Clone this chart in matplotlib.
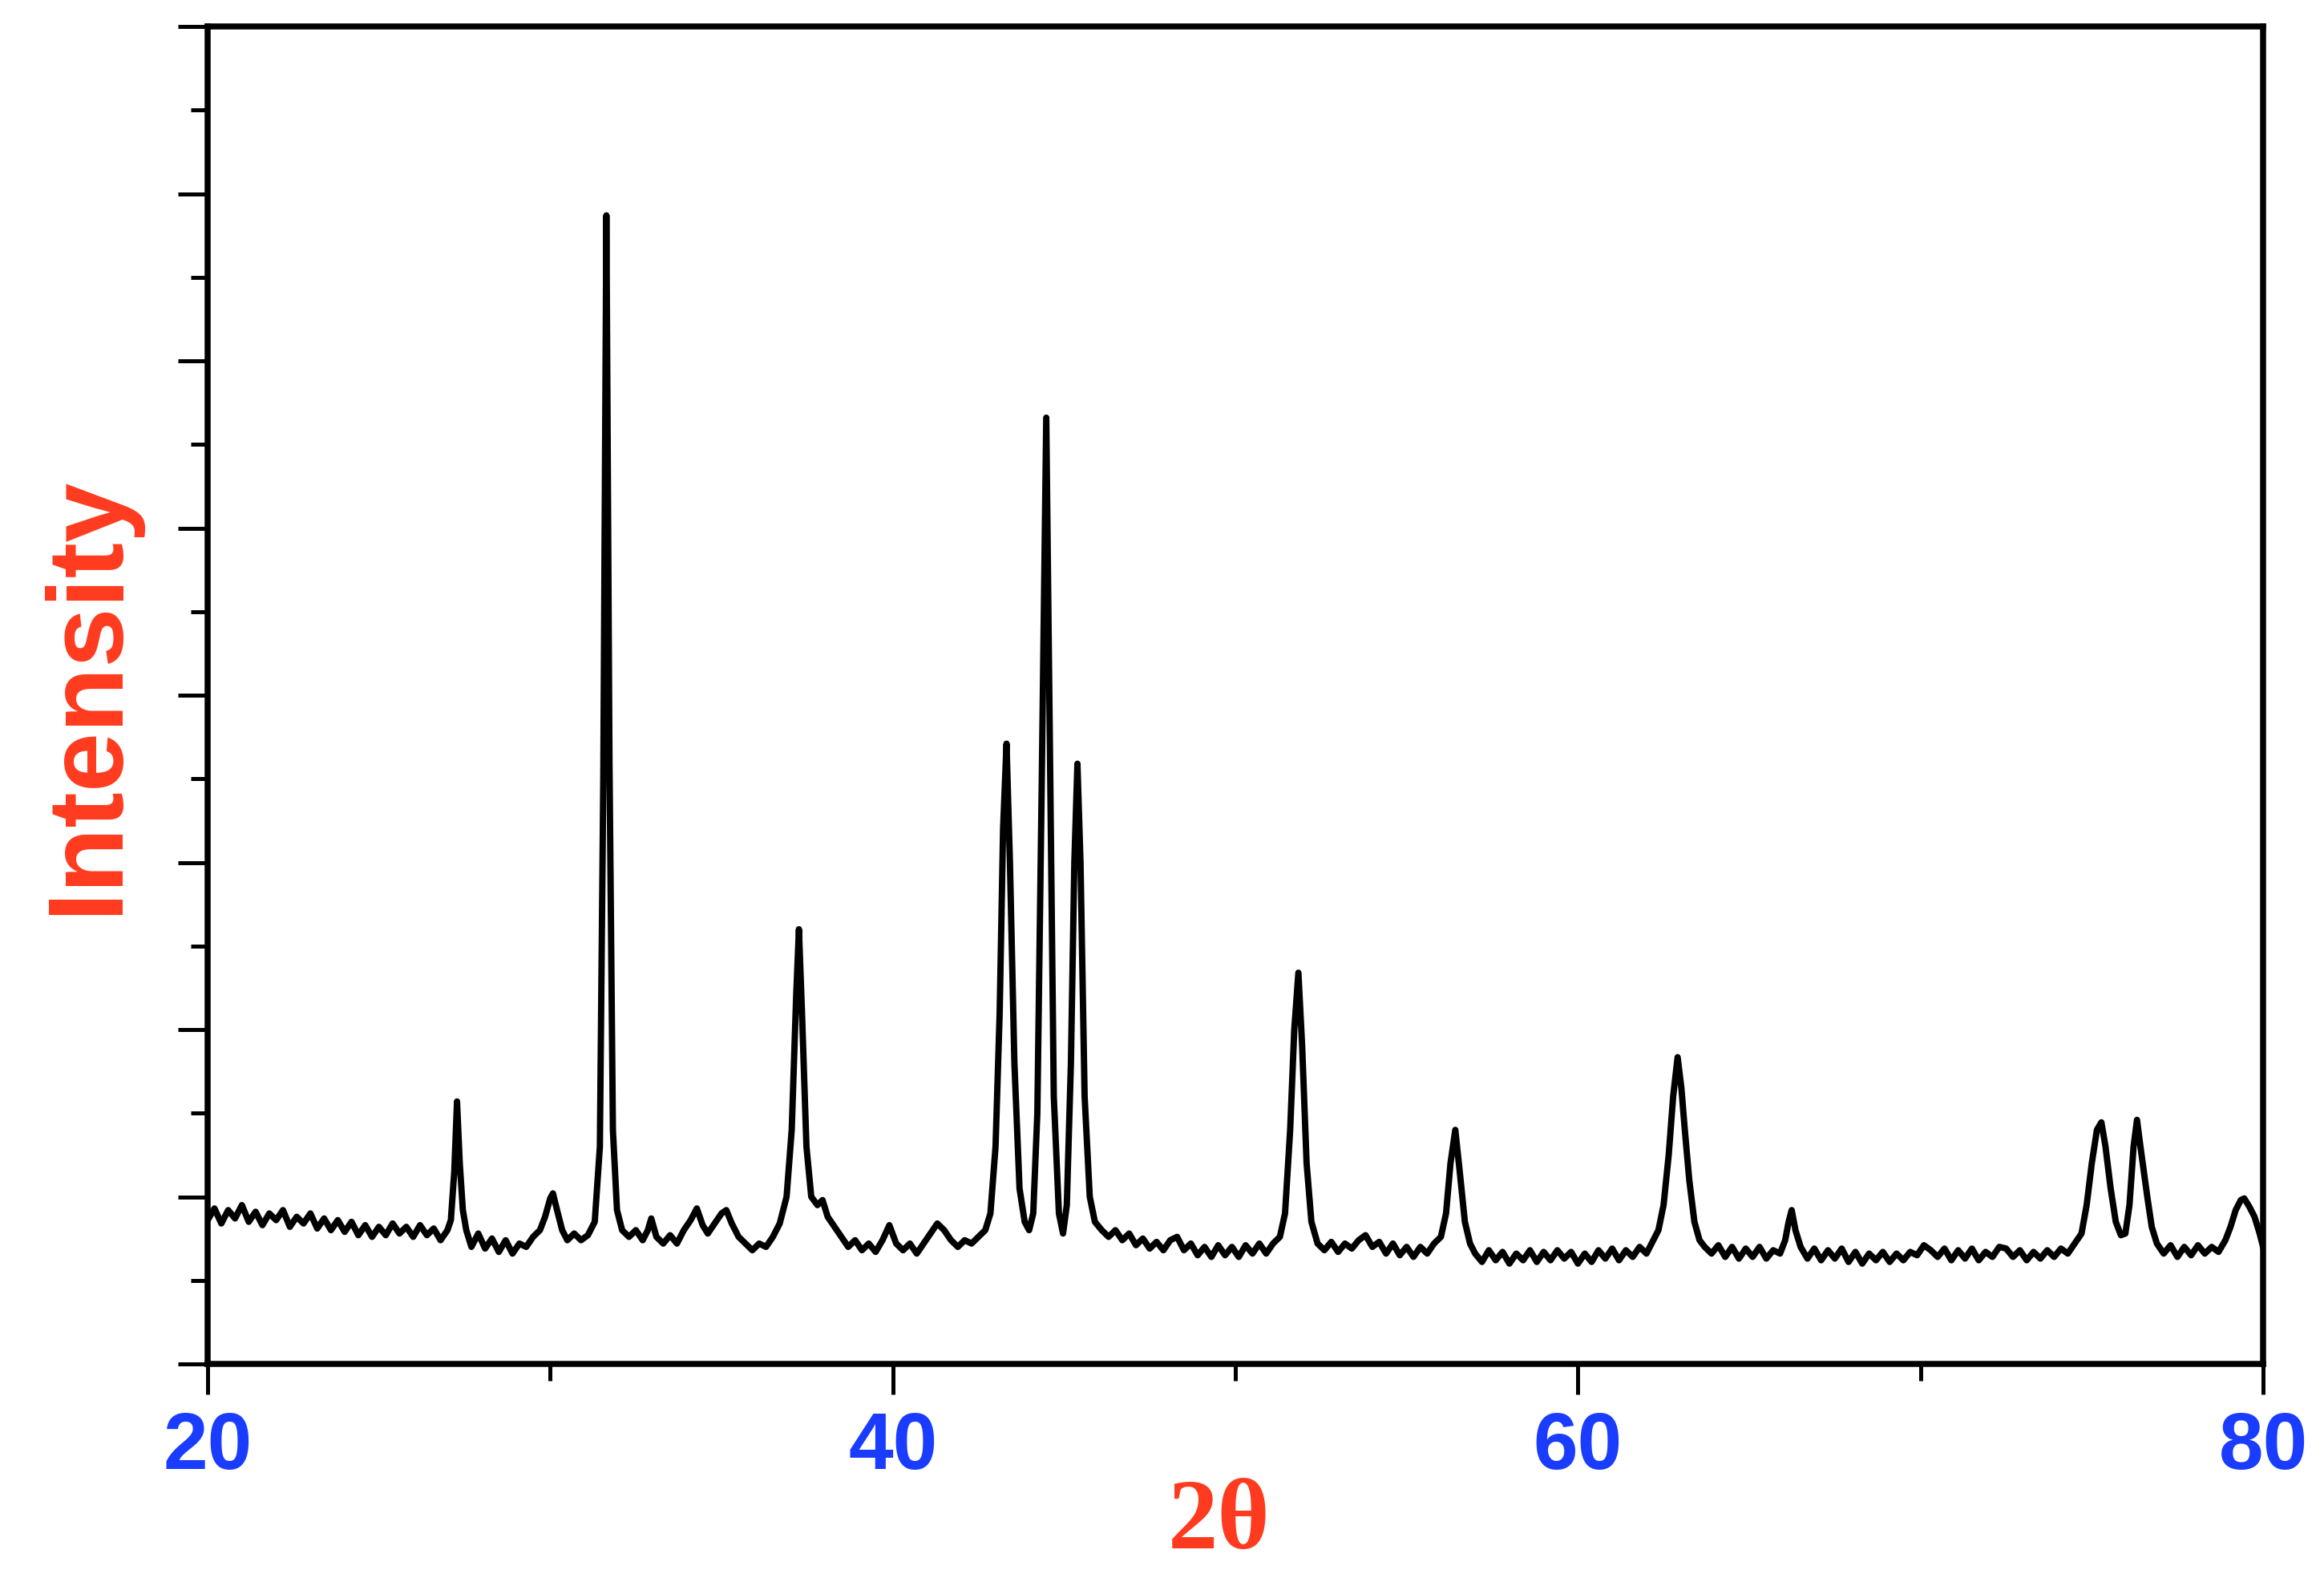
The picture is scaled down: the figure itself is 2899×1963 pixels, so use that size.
import numpy as np
import matplotlib
matplotlib.use('Agg')
from matplotlib import pyplot as plt
from matplotlib.ticker import MultipleLocator, NullFormatter

# XRD pattern (2theta in degrees, intensity in arbitrary units)
two_theta = [
    20.0, 20.2, 20.4, 20.6, 20.8, 21.0, 21.2, 21.4, 21.6, 21.8, 22.0, 22.2, 22.4, 22.6, 22.8,
    23.0, 23.2, 23.4, 23.6, 23.8, 24.0, 24.2, 24.4, 24.6, 24.8, 25.0, 25.2, 25.4, 25.6, 25.8,
    26.0, 26.2, 26.4, 26.6, 26.8, 27.0, 27.1, 27.2, 27.28, 27.36, 27.45, 27.55,
    27.7, 27.9, 28.1, 28.3, 28.5, 28.7, 28.9, 29.1, 29.3, 29.5, 29.7, 29.85, 30.0, 30.08,
    30.2, 30.35, 30.5, 30.7, 30.9, 31.1, 31.3, 31.45, 31.55, 31.64, 31.73, 31.83, 31.95,
    32.1, 32.3, 32.5, 32.7, 32.85, 32.95, 33.1, 33.3, 33.5, 33.7, 33.9, 34.1, 34.28, 34.45,
    34.6, 34.8, 35.0, 35.14, 35.3, 35.5, 35.7, 35.9, 36.1, 36.3, 36.5, 36.7, 36.9, 37.05,
    37.18, 37.26, 37.35, 37.48, 37.62, 37.8, 37.95, 38.1, 38.3, 38.5, 38.7, 38.9, 39.1,
    39.3, 39.5, 39.7, 39.9, 40.1, 40.3, 40.5, 40.7, 40.9, 41.1, 41.3, 41.5, 41.7, 41.9,
    42.1, 42.3, 42.5, 42.7, 42.85, 43.0, 43.12, 43.22, 43.32, 43.42, 43.55, 43.7, 43.85,
    43.98, 44.1, 44.22, 44.35, 44.48, 44.58, 44.7, 44.85, 44.97, 45.08, 45.2, 45.3, 45.39,
    45.48, 45.6, 45.75, 45.9, 46.1, 46.3, 46.5, 46.7, 46.9, 47.1, 47.3, 47.5, 47.7, 47.9,
    48.1, 48.3, 48.5, 48.7, 48.9, 49.1, 49.3, 49.5, 49.7, 49.9, 50.1, 50.3, 50.5, 50.7,
    50.9, 51.1, 51.3, 51.45, 51.6, 51.72, 51.84, 51.95, 52.08, 52.22, 52.4, 52.6, 52.8,
    53.0, 53.2, 53.4, 53.6, 53.8, 54.0, 54.2, 54.4, 54.6, 54.8, 55.0, 55.2, 55.4, 55.6,
    55.8, 56.0, 56.15, 56.28, 56.42, 56.55, 56.7, 56.85, 57.0, 57.2, 57.4, 57.6, 57.8,
    58.0, 58.2, 58.4, 58.6, 58.8, 59.0, 59.2, 59.4, 59.6, 59.8, 60.0, 60.2, 60.4, 60.6,
    60.8, 61.0, 61.2, 61.4, 61.6, 61.8, 62.0, 62.2, 62.35, 62.5, 62.65, 62.78, 62.91,
    63.02, 63.12, 63.25, 63.4, 63.55, 63.7, 63.9, 64.1, 64.3, 64.5, 64.7, 64.9, 65.1,
    65.3, 65.5, 65.7, 65.9, 66.05, 66.15, 66.24, 66.35, 66.5, 66.7, 66.9, 67.1, 67.3,
    67.5, 67.7, 67.9, 68.1, 68.3, 68.5, 68.7, 68.9, 69.1, 69.3, 69.5, 69.7, 69.9, 70.1,
    70.3, 70.5, 70.7, 70.9, 71.1, 71.3, 71.5, 71.7, 71.9, 72.1, 72.3, 72.5, 72.7, 72.9,
    73.1, 73.3, 73.5, 73.7, 73.9, 74.1, 74.3, 74.5, 74.7, 74.85, 75.0, 75.15, 75.28, 75.4,
    75.55, 75.7, 75.85, 75.98, 76.1, 76.22, 76.32, 76.42, 76.52, 76.62, 76.75, 76.9,
    77.1, 77.3, 77.5, 77.7, 77.9, 78.1, 78.3, 78.5, 78.7, 78.9, 79.05, 79.2, 79.35, 79.45,
    79.6, 79.75, 79.9, 80.0,
]
intensity = [
    0.86, 0.93, 0.84, 0.92, 0.87, 0.95, 0.85, 0.91, 0.83, 0.90, 0.86, 0.92, 0.82, 0.88, 0.84,
    0.90, 0.81, 0.87, 0.80, 0.86, 0.79, 0.85, 0.77, 0.83, 0.76, 0.82, 0.77, 0.84, 0.78, 0.82,
    0.76, 0.83, 0.77, 0.81, 0.74, 0.80, 0.86, 1.15, 1.57, 1.20, 0.92, 0.80,
    0.70, 0.78, 0.69, 0.75, 0.67, 0.74, 0.66, 0.72, 0.70, 0.76, 0.80, 0.88, 0.99, 1.02,
    0.92, 0.80, 0.74, 0.78, 0.74, 0.77, 0.85, 1.30, 3.50, 6.87, 3.60, 1.40, 0.92,
    0.80, 0.76, 0.80, 0.74, 0.80, 0.87, 0.76, 0.72, 0.77, 0.72, 0.80, 0.86, 0.93, 0.83,
    0.78, 0.84, 0.90, 0.92, 0.84, 0.76, 0.72, 0.68, 0.72, 0.70, 0.76, 0.84, 1.00, 1.40,
    2.20, 2.60, 2.10, 1.30, 1.00, 0.95, 0.98, 0.88, 0.82, 0.76, 0.70, 0.74, 0.68,
    0.72, 0.67, 0.74, 0.83, 0.72, 0.68, 0.72, 0.66, 0.72, 0.78, 0.84, 0.80, 0.74, 0.70,
    0.74, 0.72, 0.76, 0.80, 0.90, 1.30, 2.10, 3.20, 3.71, 3.00, 1.80, 1.05, 0.85,
    0.80, 0.90, 1.50, 3.50, 5.66, 3.80, 1.60, 0.90, 0.78, 0.95, 1.80, 3.00, 3.59,
    3.00, 1.60, 1.00, 0.85, 0.80, 0.76, 0.80, 0.74, 0.78, 0.71, 0.75, 0.69, 0.73, 0.68,
    0.74, 0.76, 0.68, 0.72, 0.65, 0.70, 0.64, 0.71, 0.65, 0.70, 0.64, 0.71, 0.66, 0.72,
    0.66, 0.72, 0.76, 0.90, 1.40, 2.00, 2.34, 1.90, 1.20, 0.85, 0.72, 0.68, 0.73,
    0.67, 0.72, 0.69, 0.74, 0.77, 0.70, 0.73, 0.66, 0.72, 0.65, 0.70, 0.64, 0.70, 0.66,
    0.72, 0.76, 0.90, 1.20, 1.40, 1.15, 0.85, 0.72, 0.66, 0.61, 0.68, 0.62, 0.67,
    0.60, 0.66, 0.62, 0.68, 0.61, 0.67, 0.62, 0.68, 0.63, 0.67, 0.60, 0.66, 0.61, 0.68,
    0.63, 0.69, 0.62, 0.68, 0.64, 0.70, 0.66, 0.74, 0.80, 0.95, 1.25, 1.60, 1.835,
    1.65, 1.40, 1.10, 0.85, 0.74, 0.70, 0.66, 0.71, 0.64, 0.70, 0.63, 0.69, 0.64,
    0.70, 0.63, 0.68, 0.66, 0.74, 0.85, 0.92, 0.80, 0.70, 0.63, 0.69, 0.62, 0.68,
    0.63, 0.69, 0.61, 0.67, 0.60, 0.66, 0.62, 0.67, 0.61, 0.66, 0.62, 0.67, 0.65, 0.71,
    0.68, 0.64, 0.69, 0.62, 0.68, 0.63, 0.69, 0.62, 0.67, 0.64, 0.70, 0.69, 0.64, 0.68,
    0.62, 0.67, 0.63, 0.68, 0.64, 0.69, 0.66, 0.72, 0.78, 0.95, 1.20, 1.40, 1.445, 1.30,
    1.05, 0.85, 0.77, 0.78, 0.95, 1.30, 1.46, 1.30, 1.15, 1.00, 0.82, 0.72,
    0.66, 0.71, 0.64, 0.70, 0.65, 0.71, 0.66, 0.70, 0.67, 0.74, 0.82, 0.92, 0.98, 0.99,
    0.94, 0.88, 0.78, 0.70,
]

x_ticks = [20, 40, 60, 80]
x_tick_labels = ["20", "40", "60", "80"]

label_red = '#ff3b1f'
tick_blue = '#1a3cff'

fig = plt.figure(figsize=(2899 / 300, 1963 / 300), dpi=300)
ax = fig.add_axes([259 / 2899, 1 - 1701 / 1963, 2564 / 2899, 1668 / 1963])

ax.plot(two_theta, intensity, color='black', lw=1.9, solid_joinstyle='round')

ax.set_xlim(20, 80)
ax.set_ylim(0, 8)

ax.set_xticks(x_ticks)
ax.set_xticklabels(x_tick_labels)
ax.xaxis.set_minor_locator(MultipleLocator(10))
ax.yaxis.set_major_locator(MultipleLocator(1))
ax.yaxis.set_minor_locator(MultipleLocator(0.5))
ax.yaxis.set_major_formatter(NullFormatter())

ax.tick_params(which='both', direction='out', top=False, right=False, width=1.2, color='black')
ax.tick_params(which='major', length=9)
ax.tick_params(which='minor', length=5)
ax.tick_params(axis='x', which='major', pad=5, labelsize=24, labelcolor=tick_blue)
for lab in ax.get_xticklabels():
    lab.set_fontweight('bold')
    lab.set_family(['Liberation Sans', 'DejaVu Sans'])

for s in ax.spines.values():
    s.set_linewidth(1.8)

ax.set_xlabel('2θ', fontsize=30, color=label_red, fontweight='bold',
              family=['Liberation Serif', 'DejaVu Serif'])
ax.xaxis.set_label_coords(0.492, -0.12)
ax.xaxis.label.set_va('center')

ax.set_ylabel('Intensity', fontsize=32, color=label_red, fontweight='bold',
              family=['Liberation Sans', 'DejaVu Sans'])
ax.yaxis.set_label_coords(-0.058, 0.5)
ax.yaxis.label.set_va('center')

fig.savefig('out.png', dpi=300)
